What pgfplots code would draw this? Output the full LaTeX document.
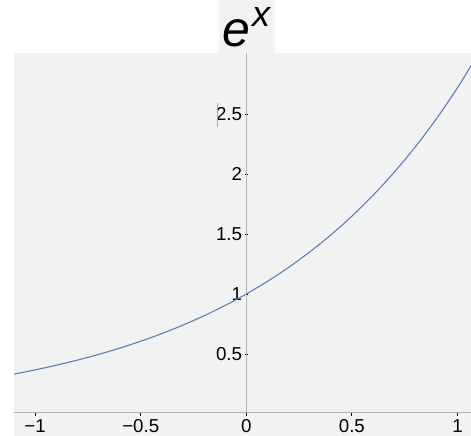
\documentclass[border=0pt]{standalone}
\usepackage{fontspec}
\setmainfont{Liberation Sans}
\usepackage{pgfplots}
\pgfplotsset{compat=1.18}
\definecolor{bgray}{RGB}{242,242,242}
\definecolor{curve}{RGB}{94,129,181}
\definecolor{axgray}{RGB}{180,180,180}
\begin{document}
\begin{tikzpicture}
\useasboundingbox (0pt,0pt) rectangle (471pt,436pt);
\begin{axis}[
  at={(14pt,0pt)}, anchor=south west,
  scale only axis, width=457pt, height=383pt,
  xmin=-1.1, xmax=1.064, ymin=-0.183, ymax=3.008,
  axis line style={draw=none},
  axis background/.style={fill=bgray, draw=none},
  axis x line=middle, axis y line=middle,
  hide obscured x ticks=false,
  hide obscured y ticks=false,
  xtick={-1,-0.5,0,0.5,1},
  xticklabels={−1,−0.5,0,0.5,1},
  ytick={0.5,1,1.5,2,2.5},
  yticklabels={0.5,1,1.5,2,2.5},
  tick style={black, line width=0.9pt},
  major tick length=3.5pt,
  tick label style={font=\fontsize{18.7}{18.7}\selectfont},
  xticklabel style={anchor=north, yshift=0pt},
  yticklabel style={anchor=east, xshift=1pt},
  clip=true,
]
\draw[axgray, line width=0.8pt] (axis cs:-1.1,0.017) -- (axis cs:1.064,0.017);
\draw[axgray, line width=0.8pt] (axis cs:0,0.017) -- (axis cs:0,3.008);
\addplot[curve, line width=1.1pt, smooth] coordinates {
(-1.1,0.3329) (-1.0,0.3679) (-0.9,0.4066) (-0.8,0.4493) (-0.7,0.4966)
(-0.6,0.5488) (-0.5,0.6065) (-0.4,0.6703) (-0.3,0.7408) (-0.2,0.8187)
(-0.1,0.9048) (0,1) (0.1,1.1052) (0.2,1.2214) (0.3,1.3499) (0.4,1.4918)
(0.5,1.6487) (0.6,1.8221) (0.7,2.0138) (0.8,2.2255) (0.9,2.4596)
(1.0,2.7183) (1.1,3.0042)
};
\end{axis}
\fill[bgray] (219pt,383pt) rectangle (275pt,436pt);
\draw[gray!70, line width=0.5pt] (217pt,333pt) -- (217pt,309pt);
\node[anchor=base west, inner sep=0pt] at (222.5pt,389pt) {\fontsize{50}{50}\selectfont\itshape e};
\node[anchor=base west, inner sep=0pt] at (252pt,409pt) {\fontsize{36}{36}\selectfont\itshape x};
\end{tikzpicture}
\end{document}
